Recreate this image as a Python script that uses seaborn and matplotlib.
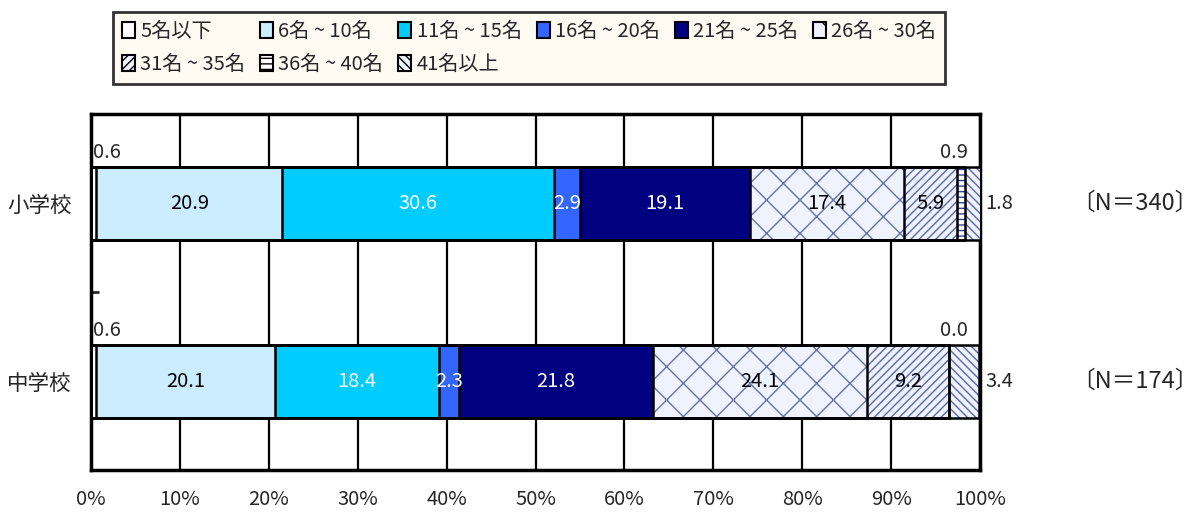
import numpy as np
import pandas as pd
import seaborn as sns
import matplotlib.pyplot as plt
from matplotlib.patches import Patch

schools = ['小学校', '中学校']
n_labels = ['〔N＝340〕', '〔N＝174〕']
groups = ['5名以下', '6名 ~ 10名', '11名 ~ 15名', '16名 ~ 20名', '21名 ~ 25名',
          '26名 ~ 30名', '31名 ~ 35名', '36名 ~ 40名', '41名以上']
elem = [0.6, 20.9, 30.6, 2.9, 19.1, 17.4, 5.9, 0.9, 1.8]
junior = [0.6, 20.1, 18.4, 2.3, 21.8, 24.1, 9.2, 0.0, 3.4]

faces = ['#FFFFFF', '#CCECFF', '#00CCFF', '#3366FF', '#000080',
         '#EEF3FF', '#EEF3FF', '#FFFFFF', '#EEF3FF']
hatches = [None, None, None, None, None, 'x', '////', '---', '\\\\\\\\']
hatch_cols = ['black'] * 5 + ['#6670A8', '#5A68A8', '#3040A0', '#5A68A8']
text_cols = ['black', 'black', 'white', 'white', 'white', 'black', 'black', 'black', 'black']

sns.set_style('white')
plt.rcParams['font.family'] = ['Noto Sans CJK JP', 'DejaVu Sans']
plt.rcParams['hatch.linewidth'] = 1.0

vals = np.array([elem, junior])
cum = vals.cumsum(axis=1)
bw = 0.41
fs = 14.5

fig = plt.figure(figsize=(11.98, 5.12), dpi=100)
ax = fig.add_axes([0.076, 0.082, 0.742, 0.695])

# fills: draw cumulative bars from the end, each one covering the earlier ones
for i in range(len(groups) - 1, -1, -1):
    sns.barplot(x=cum[:, i], y=schools, color=faces[i], hatch=hatches[i],
                edgecolor=hatch_cols[i], linewidth=0, saturation=1,
                width=bw, errorbar=None, orient='h', ax=ax, zorder=3)
# outlines
for i in range(len(groups)):
    sns.barplot(x=cum[:, i], y=schools, color='black', fill=False,
                linewidth=1.8, width=bw, errorbar=None, orient='h', ax=ax, zorder=4)

# value labels
for r in range(2):
    for i in range(len(groups)):
        v = vals[r, i]
        left = cum[r, i] - v
        if i == 0:
            ax.text(0.2, r - bw / 2 - 0.02, f'{v:.1f}', ha='left', va='bottom',
                    fontsize=fs, zorder=5)
        elif i == 7:
            ax.text(98.6, r - bw / 2 - 0.02, f'{v:.1f}', ha='right', va='bottom',
                    fontsize=fs, zorder=5)
        elif i == 8:
            ax.text(100.6, r, f'{v:.1f}', ha='left', va='center',
                    fontsize=fs, clip_on=False, zorder=5)
        else:
            ax.text(left + v / 2, r, f'{v:.1f}', ha='center', va='center',
                    color=text_cols[i], fontsize=fs, zorder=5)
    ax.text(110.3, r, n_labels[r], ha='left', va='center', fontsize=17, clip_on=False)

ax.set_xlim(0, 100)
ax.set_ylim(1.5, -0.5)
ax.set_xticks(range(0, 101, 10))
ax.set_xticklabels([f'{t}%' for t in range(0, 101, 10)], fontsize=fs)
ax.set_yticks([0, 1])
ax.set_yticklabels(schools, fontsize=15.5)
ax.set_yticks([0.5], minor=True)
ax.tick_params(axis='x', length=0, pad=14)
ax.tick_params(axis='y', which='major', length=0, pad=14)
ax.tick_params(axis='y', which='minor', direction='in', length=6, width=2, left=True)
ax.set_xlabel('')
ax.set_ylabel('')
ax.set_axisbelow(True)
ax.xaxis.grid(True, color='black', linewidth=1.6)
ax.yaxis.grid(False)
for s in ax.spines.values():
    s.set_visible(True)
    s.set_color('black')
    s.set_linewidth(2.5)

handles = [Patch(facecolor=faces[i], edgecolor='black', hatch=hatches[i], linewidth=1.5)
           for i in range(len(groups))]
order = [0, 6, 1, 7, 2, 8, 3, 4, 5]
leg = fig.legend([handles[k] for k in order], [groups[k] for k in order], ncol=6,
                 loc='upper left', bbox_to_anchor=(113 / 1198, 1 - 12 / 512),
                 fontsize=14.5, frameon=True, fancybox=False, handlelength=0.65,
                 handleheight=0.8, handletextpad=0.25, columnspacing=0.75,
                 labelspacing=0.6, borderpad=0.45, borderaxespad=0)
leg.get_frame().set_facecolor('#FFFAF0')
leg.get_frame().set_edgecolor('black')
leg.get_frame().set_linewidth(2)

fig.savefig('out.png', dpi=100)
